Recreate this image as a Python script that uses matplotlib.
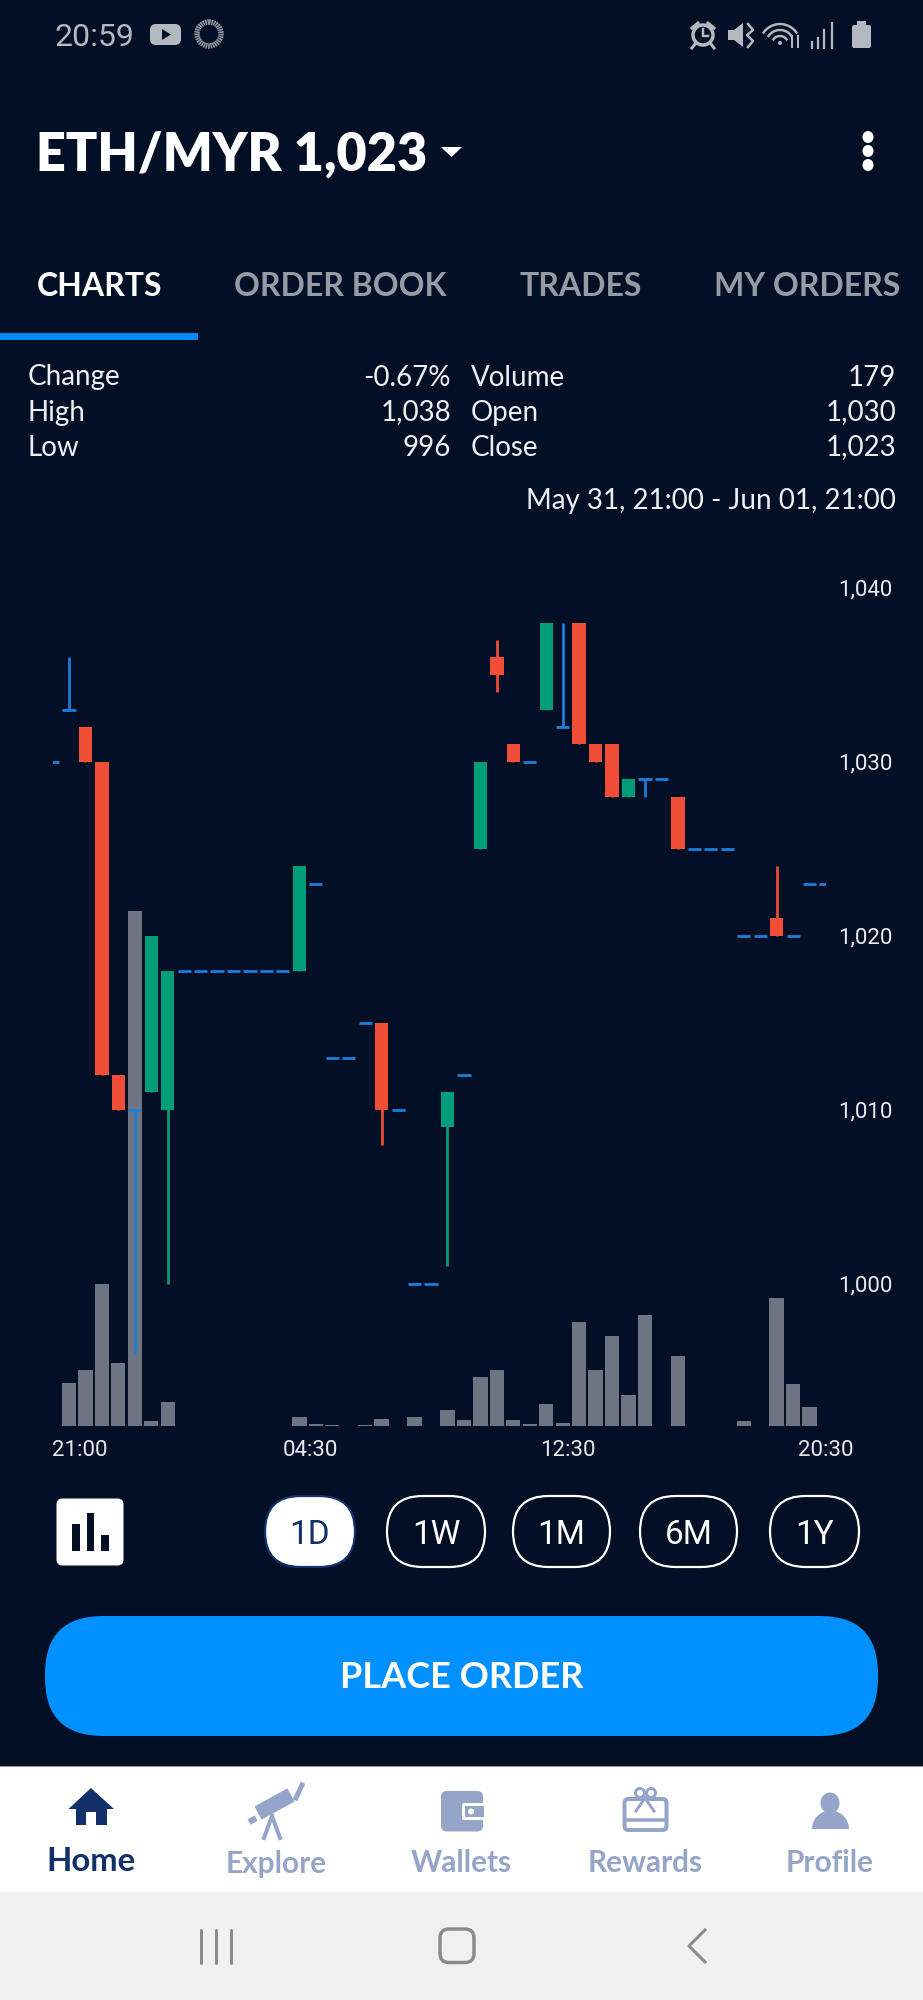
import numpy as np
import matplotlib
matplotlib.use("Agg")
import matplotlib.pyplot as plt
from matplotlib.patches import FancyBboxPatch, Polygon, Circle, Rectangle, Ellipse, Wedge

# ---------- data (index -1 .. 46, half-hour candles) ----------
opens = [1030,1033,1032,1030,1012,1010,1011,1010,1018,1018,1018,1018,1018,1018,1018,1018,1023,1013,1013,1015,1015,1010,1000,1000,1009,1012,1025,1036,1031,1030,1033,1032,1038,1031,1031,1028,1029,1029,1028,1025,1025,1025,1020,1020,1021,1020,1023,1023]
highs = [1030,1036,1032,1030,1012,1010,1020,1018,1018,1018,1018,1018,1018,1018,1018,1024,1023,1013,1013,1015,1015,1010,1000,1000,1011,1012,1030,1037,1031,1030,1038,1038,1038,1031,1031,1029,1029,1029,1028,1025,1025,1025,1020,1020,1024,1020,1023,1023]
lows = [1030,1033,1030,1012,1010,996,1011,1000,1018,1018,1018,1018,1018,1018,1018,1018,1023,1013,1013,1015,1008,1010,1000,1000,1001,1012,1025,1034,1030,1030,1033,1032,1031,1030,1028,1028,1028,1029,1025,1025,1025,1025,1020,1020,1020,1020,1023,1023]
closes = [1030,1033,1030,1012,1010,1010,1020,1018,1018,1018,1018,1018,1018,1018,1018,1024,1023,1013,1013,1015,1010,1010,1000,1000,1011,1012,1030,1035,1030,1030,1038,1032,1031,1030,1028,1029,1029,1029,1025,1025,1025,1025,1020,1020,1020,1020,1023,1023]
vol_index = [0,1,2,3,4,5,6,14,15,16,18,19,21,23,24,25,26,27,28,29,30,31,32,33,34,35,37,41,43,44,45]
volumes = [4.55,5.93,15.0,6.67,54.5,0.5,2.57,0.95,0.21,0.07,0.07,0.74,0.98,1.72,0.63,5.15,5.96,0.60,0.21,2.33,0.32,11.0,5.96,9.52,3.28,11.78,7.38,0.5,13.51,4.41,1.98]
price_ticks = [1000,1010,1020,1030,1040]
price_tick_labels = ["1,000","1,010","1,020","1,030","1,040"]
time_ticks = [0.67,14.65,30.3,46.0]
time_tick_labels = ["21:00","04:30","12:30","20:30"]
stats_left = [("Change","-0.67%"),("High","1,038"),("Low","996")]
stats_right = [("Volume","179"),("Open","1,030"),("Close","1,023")]
ranges = ["1D","1W","1M","6M","1Y"]
tabs = ["CHARTS","ORDER BOOK","TRADES","MY ORDERS"]
nav_items = ["Home","Explore","Wallets","Rewards","Profile"]

BG = "#020F25"; RED = "#F04E37"; GREEN = "#009E78"; BLUE = "#1A7FDB"; GREY = "#6E7582"
CTA = "#0090FF"; NAVY = "#12306A"; MUTED = "#95A5C9"; TABGREY = "#969CA5"; STATUS = "#B4B8BF"
UI = "Lato"; NUM = "Roboto"
W, H = 923, 2000
DPI = 100
px = 72 / DPI

fig = plt.figure(figsize=(W/DPI, H/DPI), dpi=DPI, facecolor=BG)

# ---------- screen chrome in pixel coordinates ----------
ui = fig.add_axes([0,0,1,1], zorder=0)
ui.set_xlim(0,W); ui.set_ylim(H,0); ui.axis("off")

def T(x,y,s,size,color="white",ha="left",weight="normal",family=UI):
    return ui.text(x,y,s,fontsize=size,color=color,ha=ha,va="center_baseline",fontweight=weight,family=family)
def RR(x0,y0,x1,y1,r,fc,ec="none",lw=0,z=2):
    p = FancyBboxPatch((x0,y0),x1-x0,y1-y0,boxstyle=f"round,pad=0,rounding_size={r}",fc=fc,ec=ec,lw=lw,zorder=z)
    ui.add_patch(p); return p

# status bar
T(54,35,"20:59",23,STATUS,family=NUM)
RR(150,24,181,45,6,STATUS)
ui.add_patch(Polygon([(162,29),(162,40),(171,34.5)],fc=BG,zorder=3))
ui.add_patch(Circle((209,34),12,fc="none",ec="#8E939B",lw=5.5*px,ls=(0,(0.3,0.12)),zorder=2))
# alarm
ui.add_patch(Circle((703,35),10,fc="none",ec=STATUS,lw=3.5*px,zorder=2))
ui.plot([703,703,708],[29,36,36],color=STATUS,lw=2.5*px)
ui.plot([692,698],[28,23],color=STATUS,lw=3*px); ui.plot([714,708],[28,23],color=STATUS,lw=3*px)
ui.plot([695,692],[44,48],color=STATUS,lw=3*px); ui.plot([711,714],[44,48],color=STATUS,lw=3*px)
# mute
ui.add_patch(Polygon([(728,30),(734,30),(743,23),(743,47),(734,40),(728,40)],fc=STATUS,zorder=2))
ui.plot([748,753,747,753,748],[24,30,35,41,47],color=STATUS,lw=2.5*px)
# wifi
for r in (8,14,20):
    th = np.radians(np.linspace(215,325,20))
    ui.plot(780+r*np.cos(th), 44+r*np.sin(th)*1.0, color=STATUS, lw=2.4*px)
ui.add_patch(Circle((780,43),2,fc=STATUS))
ui.plot([792,792],[36,47],color=STATUS,lw=2*px); ui.plot([798,798],[36,47],color=STATUS,lw=2*px)
# signal
for sx,top in zip((812,818,824,832),(42,38,30,23)):
    ui.plot([sx,sx],[top,48],color=STATUS,lw=2.2*px)
# battery
RR(852,25,871,48,2,STATUS)
ui.add_patch(Rectangle((857,21),9,5,fc=STATUS))

# title
T(36,150,"ETH/MYR 1,023",37.5,"white",weight="heavy")
ui.add_patch(Polygon([(441,147),(462,147),(451.5,157)],fc="white"))
for y in (137,151,165):
    ui.add_patch(Ellipse((868,y),11,12,fc="white"))

# tabs
for s,x,c in zip(tabs,(37,234,520,714),("white",TABGREY,TABGREY,TABGREY)):
    T(x,284,s,23,c,weight="bold")
ui.add_patch(Rectangle((0,333),198,7,fc="#0088F5"))

# stats
for i,((a,b),(c,d)) in enumerate(zip(stats_left,stats_right)):
    y = 375 + 35*i
    T(28,y,a,20,"#EEF0F3"); T(451,y,b,20,"#EEF0F3",ha="right")
    T(471,y,c,20,"#EEF0F3"); T(896,y,d,20,"#EEF0F3",ha="right")
T(896,498,"May 31, 21:00 - Jun 01, 21:00",20,"#EEF0F3",ha="right")

# chart-type icon
RR(56.5,1498.5,123.5,1565.5,6,"white")
for x0,x1,top in ((72,79.5,1524),(86.5,94,1513),(101,109,1535)):
    ui.add_patch(Rectangle((x0,top),x1-x0,1551-top,fc=BG,zorder=3))

# range pills
for s,(x0,x1),act in zip(ranges,((265,355),(387,485),(513,610),(640,737),(770,859)),(1,0,0,0,0)):
    RR(x0,1496,x1,1567,35.5,"white" if act else "none",ec=NAVY if act else "white",lw=2.2*px)
    T((x0+x1)/2,1531,s,24,NAVY if act else "white",ha="center",family=NUM)

# button
RR(45,1616,878,1736,58,CTA)
T(462,1674.5,"PLACE ORDER",26,"white",ha="center",weight="bold")

# nav bar
ui.add_patch(Rectangle((0,1767),W,125,fc="white",zorder=1))
ui.add_patch(Rectangle((0,1892),W,108,fc="#F0F0F0",zorder=1))
ui.plot([0,W],[1766,1766],color="#8E949C",lw=1*px,zorder=2)
for s,x,c,y,size in zip(nav_items,(91,276.6,461.4,645,830),(NAVY,MUTED,MUTED,MUTED,MUTED),(1859,1861,1861,1861,1861),(23.7,21.4,21.4,21.4,21.4)):
    T(x,y,s,size,c,ha="center",weight="bold")
# home icon
ui.add_patch(Polygon([(91,1788),(114,1809),(107,1809),(107,1825),(96,1825),(96,1812),(86,1812),(86,1825),(76,1825),(76,1809),(68.5,1809)],fc=NAVY,zorder=3))
# telescope
ui.plot([258,291],[1813,1795],color=MUTED,lw=15*px,solid_capstyle="butt",zorder=3)
ui.plot([296,302],[1798,1785],color=MUTED,lw=5*px,zorder=3)
ui.plot([249,256],[1822,1818],color=MUTED,lw=6*px,solid_capstyle="butt",zorder=3)
ui.plot([272,264],[1816,1838],color=MUTED,lw=4*px,zorder=3)
ui.plot([272,280],[1816,1838],color=MUTED,lw=4*px,zorder=3)
# wallet
RR(441,1791,483,1831.5,6,MUTED,z=3)
RR(462,1803,485,1820,2,"white",z=4)
ui.add_patch(Rectangle((465,1806),19,11,fc=MUTED,zorder=5))
ui.add_patch(Circle((471,1811.5),3,fc="white",zorder=6))
# rewards
RR(624.5,1799,666.5,1830,4,"none",ec=MUTED,lw=4*px,z=3)
ui.plot([625,666],[1820,1820],color=MUTED,lw=3.5*px,zorder=3)
ui.add_patch(Circle((640,1793),4.5,fc="none",ec=MUTED,lw=3*px,zorder=3))
ui.add_patch(Circle((651,1793),4.5,fc="none",ec=MUTED,lw=3*px,zorder=3))
ui.plot([645,636],[1798,1811],color=MUTED,lw=3*px,zorder=3)
ui.plot([645,654],[1798,1811],color=MUTED,lw=3*px,zorder=3)
# profile
ui.add_patch(Ellipse((830,1803),19,21,fc=MUTED,zorder=3))
ui.add_patch(Wedge((830.5,1829),18.5,180,360,fc=MUTED,zorder=3))
# android keys
for x in (201,216,231):
    ui.plot([x,x],[1930,1962.5],color="#8A8A8A",lw=3*px,solid_capstyle="round")
RR(440,1929,474,1962.5,9,"none",ec="#8A8A8A",lw=3.4*px)
ui.plot([705,689,705],[1930,1946,1962],color="#8A8A8A",lw=3*px)

# ---------- chart ----------
LEFT, RIGHT, TOP, BOTTOM = 52.5, 826.0, 560.0, 1426.0
rect = [LEFT/W, 1-BOTTOM/H, (RIGHT-LEFT)/W, (BOTTOM-TOP)/H]
ax = fig.add_axes(rect, zorder=2, facecolor="none")
axv = ax.twinx()
ax.set_zorder(3); axv.set_zorder(2); axv.patch.set_visible(False)

idx = np.arange(-1, 47)
o,h,l,c = map(np.array,(opens,highs,lows,closes))
ax.set_xlim(-1,46)
ax.set_ylim(1030-(BOTTOM-761.7)/17.4, 1030+(761.7-TOP)/17.4)
axv.set_ylim(0,(BOTTOM-TOP)/9.45)

axv.bar(vol_index, volumes, width=0.87, color=GREY, linewidth=0)

colors = np.where(c>o, GREEN, np.where(c<o, RED, BLUE))
ax.vlines(idx, l, h, colors=colors, linewidth=2.7*px, capstyle="butt", zorder=2)
body = c!=o
ax.bar(idx[body], (c-o)[body], bottom=o[body], width=0.81, color=colors[body], linewidth=0, zorder=3)
ax.hlines(c[~body], idx[~body]-0.4, idx[~body]+0.4, colors=BLUE, linewidth=2.8*px, zorder=3)

ax.yaxis.tick_right()
ax.set_yticks(price_ticks, price_tick_labels)
ax.set_xticks(time_ticks, time_tick_labels)
ax.tick_params(axis="y", length=0, pad=12*px, labelsize=16, labelcolor="#E8EAEE")
ax.tick_params(axis="x", length=0, pad=14*px, labelsize=16, labelcolor="#E8EAEE")
for lab in ax.get_xticklabels()+ax.get_yticklabels():
    lab.set_family(NUM)
axv.set_yticks([])
for a in (ax,axv):
    for sp in a.spines.values():
        sp.set_visible(False)

fig.savefig("out.png", dpi=DPI, facecolor=BG)
